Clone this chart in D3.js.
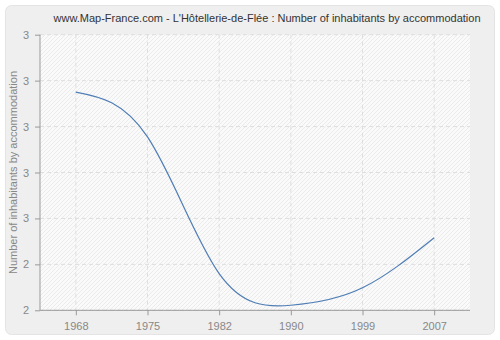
<!DOCTYPE html>
<html>
<head>
<meta charset="utf-8">
<script src="https://cdn.jsdelivr.net/npm/d3@7"></script>
<style>
  body { margin: 0; background: #fff; }
  svg { display: block; font-family: "Liberation Sans", Arial, sans-serif; }
</style>
</head>
<body>
<svg id="chart"></svg>
<script>
// data
const years = ['1968', '1975', '1982', '1990', '1999', '2007']
const values = [3.15, 2.955, 2.36, 2.222, 2.298, 2.516]
const yTicks = [2.2, 2.4, 2.6, 2.8, 3.0, 3.2, 3.4]
const title = 'www.Map-France.com - L\'Hôtellerie-de-Flée : Number of inhabitants by accommodation'
const yTitle = 'Number of inhabitants by accommodation'

const width = 500
const height = 340
const margin = { top: 34.7, right: 30, bottom: 29.7, left: 40 }
const fontFamily = '"Liberation Sans", Arial, sans-serif'

const svg = d3.select('#chart').attr('width', width).attr('height', height)

// 斜线底纹
const defs = svg.append('defs')
const hatch = defs.append('pattern')
    .attr('id', 'hatch')
    .attr('patternUnits', 'userSpaceOnUse')
    .attr('width', 4).attr('height', 4)
hatch.append('rect').attr('width', 4).attr('height', 4).attr('fill', '#fafafa')
hatch.append('path')
    .attr('d', 'M-1,1 l2,-2 M0,4 l4,-4 M3,5 l2,-2')
    .attr('stroke', '#ebebeb').attr('stroke-width', 1)

// 外框
svg.append('rect')
    .attr('x', 5.5).attr('y', 5.5)
    .attr('width', width - 11).attr('height', height - 11)
    .attr('rx', 6)
    .attr('fill', '#efefef')
    .attr('stroke', '#e4e4e4')

const x = d3.scalePoint()
    .domain(years)
    .range([margin.left, width - margin.right])
    .padding(0.5)

const y = d3.scaleLinear()
    .domain([yTicks[0], yTicks[yTicks.length - 1]])
    .range([height - margin.bottom, margin.top])

svg.append('rect')
    .attr('x', margin.left).attr('y', margin.top)
    .attr('width', width - margin.left - margin.right)
    .attr('height', height - margin.top - margin.bottom)
    .attr('fill', 'url(#hatch)')

// 网格
const grid = svg.append('g')
    .attr('stroke', '#dedede')
    .attr('stroke-dasharray', '4,3')
grid.selectAll('.h').data(yTicks).enter()
    .append('line')
    .attr('x1', margin.left).attr('x2', width - margin.right)
    .attr('y1', d => y(d)).attr('y2', d => y(d))
grid.selectAll('.v').data(years).enter()
    .append('line')
    .attr('x1', d => x(d)).attr('x2', d => x(d))
    .attr('y1', margin.top).attr('y2', height - margin.bottom)

// 坐标轴
const fmt = d3.format('.0f')
const yAxis = svg.append('g')
    .attr('transform', `translate(${margin.left},0)`)
    .call(d3.axisLeft(y).tickValues(yTicks).tickFormat(fmt).tickSize(5).tickPadding(6))
const xAxis = svg.append('g')
    .attr('transform', `translate(0,${height - margin.bottom})`)
    .call(d3.axisBottom(x).tickSize(5).tickPadding(7))

for (const ax of [xAxis, yAxis]) {
    ax.select('.domain').attr('stroke', '#999')
    ax.selectAll('.tick line').attr('stroke', '#999')
    ax.selectAll('.tick text')
        .attr('fill', '#888')
        .attr('font-size', 11)
        .attr('font-family', fontFamily)
}
xAxis.select('.domain').attr('d', `M${margin.left},0H${width - margin.right}`)
yAxis.select('.domain').attr('d', `M0,${margin.top}V${height - margin.bottom}`)

// 曲线
const line = d3.line()
    .x((d, i) => x(years[i]))
    .y(d => y(d))
    .curve(d3.curveNatural)

svg.append('path')
    .datum(values)
    .attr('d', line)
    .attr('fill', 'none')
    .attr('stroke', '#4f7db5')
    .attr('stroke-width', 1.2)

// 标题
svg.append('text')
    .attr('x', 267).attr('y', 22)
    .attr('text-anchor', 'middle')
    .attr('font-size', 11)
    .attr('fill', '#333')
    .text(title)

svg.append('text')
    .attr('transform', `translate(17,${(margin.top + height - margin.bottom) / 2}) rotate(-90)`)
    .attr('text-anchor', 'middle')
    .attr('font-size', 11)
    .attr('fill', '#888')
    .text(yTitle)
</script>
</body>
</html>
